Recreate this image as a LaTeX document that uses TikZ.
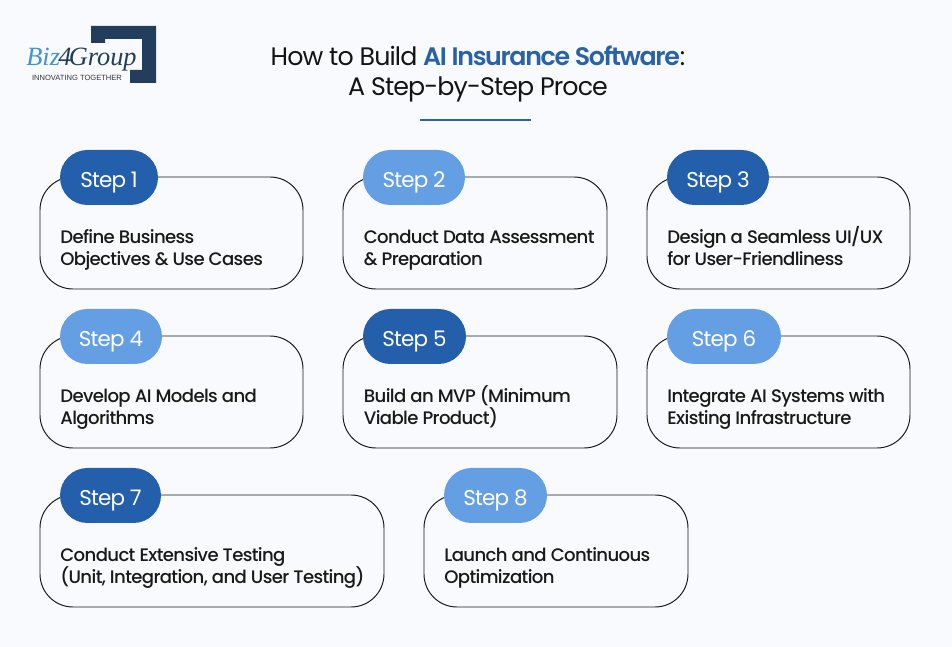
\documentclass[tikz,border=0pt]{standalone}
\usepackage{fontspec}
\setmainfont{Poppins}
\newfontfamily\bodyfont[LetterSpace=-3.5]{Poppins Medium}
\newfontfamily\stepfont[LetterSpace=-3.8]{Poppins}
\newfontfamily\titlefont[LetterSpace=-3.5]{Poppins}
\newfontfamily\titlebold[LetterSpace=-5.3]{Poppins SemiBold}
\newfontfamily\logofont{Liberation Serif}
\newfontfamily\logosans{Liberation Sans}
\definecolor{pagebg}{HTML}{F8FAFD}
\definecolor{darkstep}{HTML}{245FAB}
\definecolor{lightstep}{HTML}{659FE3}
\definecolor{titleblue}{HTML}{2A62A8}
\definecolor{logonavy}{HTML}{223E5C}
\definecolor{logoblue}{HTML}{3F93D6}
\tikzset{
  card/.style={draw=black!90, line width=0.55pt, fill=pagebg, rounded corners=0.66cm, minimum height=2.24cm, inner sep=0pt},
  cardtext/.style={anchor=base west, align=left, inner sep=0pt, text=black!90, font=\bodyfont\fontsize{10.3}{12.7}\selectfont},
  pill/.style={rounded corners=0.55cm, minimum height=1.1cm, inner sep=0pt, text=white, text height=0.4cm, text depth=0cm, font=\stepfont\fontsize{12.2}{14}\selectfont},
  darkpill/.style={pill, fill=darkstep},
  lightpill/.style={pill, fill=lightstep},
  titletext/.style={anchor=base, align=center, inner sep=0pt, text=black!92, font=\titlefont\fontsize{14.4}{17.1}\selectfont}
}
\begin{document}
\begin{tikzpicture}
  \useasboundingbox[fill=pagebg] (0,0) rectangle (19.04,-12.94);
  % logo
  \fill[logonavy] (1.82,-0.52) -- (3.12,-0.52) -- (3.12,-1.66) -- (2.6,-1.66) -- (2.6,-1.4) -- (2.84,-1.4) -- (2.84,-0.78) -- (2.1,-0.78) -- (2.1,-0.86) -- (1.82,-0.86) -- cycle;
  \node[inner sep=0pt, font=\logofont\itshape\fontsize{15}{16}\selectfont] (logo) at (1.63,-1.2) {\textcolor{logoblue}{Biz}\kern-1pt\textcolor{logonavy}{4\kern-1.5ptGroup}};
  \node[inner sep=0pt, text=black!80, font=\logosans\fontsize{4.3}{5}\selectfont] (slogan) at (1.54,-1.55) {INNOVATING TOGETHER};
  % title
  \node[titletext] (title) at (9.56,-1.92) {How to Build \textcolor{titleblue}{\titlebold AI Insurance Software}:\\A Step-by-Step Proce};
  \coordinate (ruleL) at (8.4,-2.4);
  \coordinate (ruleR) at (10.62,-2.4);
  \draw[titleblue, line width=0.6pt] (ruleL) -- (ruleR);
  % cards
  \node[card, minimum width=5.26cm] (card1) at (3.43,-4.66) {};
  \node[card, minimum width=5.28cm] (card2) at (9.5,-4.66) {};
  \node[card, minimum width=5.26cm] (card3) at (15.57,-4.66) {};
  \node[card, minimum width=5.26cm] (card4) at (3.43,-7.84) {};
  \node[card, minimum width=5.48cm] (card5) at (9.6,-7.84) {};
  \node[card, minimum width=5.26cm] (card6) at (15.57,-7.84) {};
  \node[card, minimum width=6.88cm] (card7) at (4.24,-11.02) {};
  \node[card, minimum width=5.28cm] (card8) at (11.12,-11.02) {};
  % step labels
  \node[darkpill, minimum width=1.96cm] (step1) at (2.18,-3.55) {Step 1};
  \node[lightpill, minimum width=2.04cm] (step2) at (8.28,-3.55) {Step 2};
  \node[darkpill, minimum width=2.04cm] (step3) at (14.36,-3.55) {Step 3};
  \node[lightpill, minimum width=2.04cm] (step4) at (2.22,-6.73) {Step 4};
  \node[darkpill, minimum width=2.06cm] (step5) at (8.29,-6.73) {Step 5};
  \node[lightpill, minimum width=2.28cm] (step6) at (14.48,-6.73) {Step 6};
  \node[darkpill, minimum width=2.02cm] (step7) at (2.21,-9.91) {Step 7};
  \node[lightpill, minimum width=2.06cm] (step8) at (9.91,-9.91) {Step 8};
  % card texts
  \node[cardtext] (text1) at (1.2,-5.32) {Define Business\\Objectives \& Use Cases};
  \node[cardtext] (text2) at (7.27,-5.32) {Conduct Data Assessment\\\& Preparation};
  \node[cardtext] (text3) at (13.34,-5.32) {Design a Seamless UI/UX\\for User-Friendliness};
  \node[cardtext] (text4) at (1.2,-8.5) {Develop AI Models and\\Algorithms};
  \node[cardtext] (text5) at (7.27,-8.5) {Build an MVP (Minimum\\Viable Product)};
  \node[cardtext] (text6) at (13.34,-8.5) {Integrate AI Systems with\\Existing Infrastructure};
  \node[cardtext] (text7) at (1.2,-11.68) {Conduct Extensive Testing\\(Unit, Integration, and User Testing)};
  \node[cardtext] (text8) at (8.88,-11.68) {Launch and Continuous\\Optimization};
\end{tikzpicture}
\end{document}
